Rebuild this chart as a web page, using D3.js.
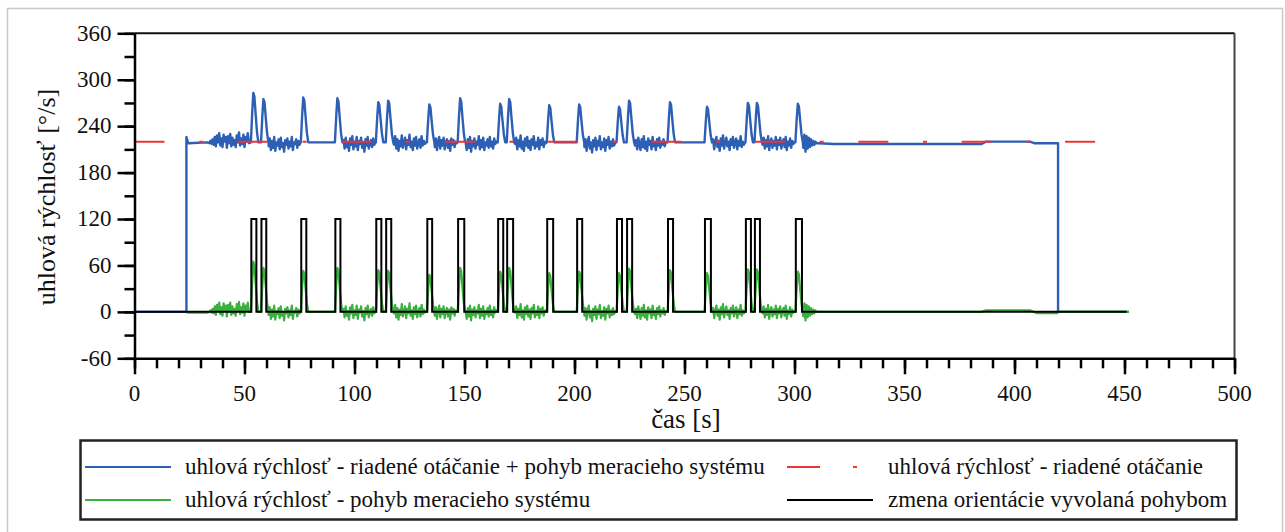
<!DOCTYPE html>
<html>
<head>
<meta charset="utf-8">
<script src="https://cdn.jsdelivr.net/npm/d3@7"></script>
<style>
  body { margin: 0; background: #fff; }
  #wrap { position: relative; width: 1285px; height: 532px; }
  #wrap svg { position: absolute; left: 0; top: 0; display: block; }
  .lbl {
    position: absolute; white-space: nowrap; line-height: 1; color: #111;
    font-family: "Liberation Serif", "Times New Roman", Times, serif;
  }
</style>
</head>
<body>
<div id="wrap"><svg id="chart" width="1285" height="532"></svg></div>
<script>
// --- data ---
const xTicks = [0, 50, 100, 150, 200, 250, 300, 350, 400, 450, 500];
const yTicks = [-60, 0, 60, 120, 180, 240, 300, 360];

// pulses of "zmena orientácie" (s)
const pulseOn  = [53.1, 57.7, 75.8, 91.3, 109.9, 114.4, 133.1, 147.1, 165.3, 169.4, 187.6, 201.2, 219.3, 223.9, 242.5, 259.3, 277.9, 282.0, 300.6];
const pulseOff = [55.4, 59.9, 78.1, 93.6, 112.2, 116.7, 135.3, 149.9, 167.6, 172.1, 190.3, 203.5, 221.6, 226.2, 244.8, 262.0, 280.2, 284.3, 303.4];
const pulseLevel = 120;

// peak values at each pulse
const bluePeak  = [283, 275, 277, 276, 271, 273, 268, 276, 269, 275, 267, 268, 265, 273, 271, 265, 270, 270, 269];
const greenPeak = [65, 57, 53, 57, 54, 53, 48, 57, 52, 57, 50, 52, 50, 56, 54, 50, 55, 55, 52];
// shape of one peak: [s after pulse start, share of peak height]
const peakShape = [[-0.2, 0], [0.4, 0.6], [0.9, 1], [1.4, 0.93], [2.0, 0.55], [2.6, 0.2], [3.2, 0]];

// noisy stretches, sampled every 0.5 s from noiseStart
const noiseStep = 0.5;
const noiseStart = [34, 61, 95, 118, 136.5, 150.5, 173, 204.5, 227.5, 263, 285.5, 304];
const blueNoise = [
  [218, 221, 217, 223, 216, 226, 214, 228, 219, 231, 215, 224, 213, 229, 220, 226, 212, 227, 218, 230, 214, 225, 216, 222, 213, 228, 219, 232, 215, 224, 217, 229, 213, 226, 220, 231, 218],
  [214, 224, 209, 221, 212, 226, 208, 219, 215, 223, 210, 225, 213, 218, 207, 222, 216, 224, 211, 220, 214, 226, 209, 219, 217, 223, 212, 221, 216, 219],
  [222, 211, 225, 213, 219, 208, 224, 216, 227, 210, 220, 214, 226, 209, 221, 217, 225, 212, 219, 207, 223, 215, 226, 211, 218, 222, 213, 224, 216, 220],
  [216, 227, 211, 223, 208, 221, 214, 228, 212, 219, 225, 210, 222, 216, 229, 213, 220, 209, 224, 215, 226, 211, 218, 223, 212, 227, 215, 221, 217, 219],
  [213, 224, 209, 220, 226, 211, 222, 215, 225, 210, 219, 223, 212, 221, 208, 224, 216, 222, 213, 220, 218],
  [219, 209, 223, 212, 226, 207, 221, 214, 224, 211, 220, 216, 227, 210, 222, 213, 225, 209, 219, 215, 223, 212, 226, 214, 220, 211, 224, 217, 220],
  [217, 225, 210, 222, 214, 228, 211, 220, 208, 224, 215, 226, 212, 221, 209, 223, 216, 227, 211, 219, 214, 225, 210, 222, 216, 224, 213, 220, 218],
  [213, 223, 208, 220, 226, 211, 219, 206, 222, 214, 225, 209, 221, 215, 227, 210, 219, 213, 224, 208, 222, 216, 226, 211, 220, 214, 223, 215, 219],
  [215, 222, 210, 225, 217, 209, 223, 213, 227, 211, 220, 208, 224, 216, 221, 210, 226, 214, 219, 209, 223, 215, 225, 212, 220, 216, 223, 214, 219],
  [223, 210, 220, 226, 213, 221, 208, 224, 215, 228, 211, 219, 225, 214, 220, 209, 223, 216, 226, 212, 219, 224, 210, 221, 215, 227, 213, 220, 216, 219],
  [216, 225, 211, 222, 214, 227, 209, 220, 224, 212, 221, 215, 226, 210, 222, 216, 225, 211, 219, 223, 213, 226, 209, 220, 215, 224, 212, 221, 217, 219],
  [212, 229, 207, 227, 211, 225, 213, 223, 215, 221, 216, 220, 218]
];
const greenNoise = [
  [0, 2, -1, 4, -2, 7, -4, 9, 1, 12, -3, 6, -5, 11, 2, 8, -6, 9, 0, 12, -4, 7, -2, 4, -5, 10, 1, 13, -3, 6, -1, 11, -5, 8, 2, 12, 0],
  [-4, 6, -9, 3, -6, 8, -10, 1, -3, 5, -8, 7, -5, 0, -11, 4, -2, 6, -7, 2, -4, 8, -9, 1, -1, 5, -6, 3, -2, 1],
  [4, -7, 7, -5, 1, -10, 6, -2, 9, -8, 2, -4, 8, -9, 3, -1, 7, -6, 1, -11, 5, -3, 8, -7, 0, 4, -5, 6, -2, 2],
  [-2, 9, -7, 5, -10, 3, -4, 10, -6, 1, 7, -8, 4, -2, 11, -5, 2, -9, 6, -3, 8, -7, 0, 5, -6, 9, -3, 3, -1, 1],
  [-5, 6, -9, 2, 8, -7, 4, -3, 7, -8, 1, 5, -6, 3, -10, 6, -2, 4, -5, 2, 0],
  [1, -9, 5, -6, 8, -11, 3, -4, 6, -7, 2, -2, 9, -8, 4, -5, 7, -9, 1, -3, 5, -6, 8, -4, 2, -7, 6, -1, 2],
  [-1, 7, -8, 4, -4, 10, -7, 2, -10, 6, -3, 8, -6, 3, -9, 5, -2, 9, -7, 1, -4, 7, -8, 4, -2, 6, -5, 2, 0],
  [-5, 5, -10, 2, 8, -7, 1, -12, 4, -4, 7, -9, 3, -3, 9, -8, 1, -5, 6, -10, 4, -2, 8, -7, 2, -4, 5, -3, 1],
  [-3, 4, -8, 7, -1, -9, 5, -5, 9, -7, 2, -10, 6, -2, 3, -8, 8, -4, 1, -9, 5, -3, 7, -6, 2, -2, 5, -4, 1],
  [5, -8, 2, 8, -5, 3, -10, 6, -3, 10, -7, 1, 7, -4, 2, -9, 5, -2, 8, -6, 1, 6, -8, 3, -3, 9, -5, 2, -2, 1],
  [-2, 7, -7, 4, -4, 9, -9, 2, 6, -6, 3, -3, 8, -8, 4, -2, 7, -7, 1, 5, -5, 8, -9, 2, -3, 6, -6, 3, -1, 1],
  [-6, 11, -11, 9, -7, 7, -5, 5, -3, 3, -2, 2, 0]
];

// quiet parts (start / end of record)
const blueQuiet = [[0, 0], [23.6, 0], [23.6, 226], [24.4, 218], [33, 219],
  [311, 218], [318, 217], [385, 217], [387, 220], [407, 220], [409, 218], [419.8, 218], [419.8, 0], [452, 0]];
const greenQuiet = [[23.6, 0], [24.4, -1], [33, -1],
  [311, 0], [385, 0], [387, 2], [407, 2], [410, -1.5], [419.5, -1.5], [420, 0], [452, 0]];
const blackQuiet = [[0, 0], [451, 0]];
const redLevel = [[0, 220], [438, 220]];
const baseBlue = 219;

const legendItems = [
  { label: "uhlová rýchlosť - riadené otáčanie + pohyb meracieho systému", color: "#2d5fb4", col: 0, row: 0 },
  { label: "uhlová rýchlosť - riadené otáčanie", color: "#e8353a", col: 1, row: 0, dashed: true },
  { label: "uhlová rýchlosť - pohyb meracieho systému", color: "#3ab03e", col: 0, row: 1 },
  { label: "zmena orientácie vyvolaná pohybom", color: "#000", col: 1, row: 1 }
];

// --- build series ---
function buildSeries(quiet, noise, peaks, base) {
  const pts = quiet.slice();
  noise.forEach((vals, i) => vals.forEach((v, k) => pts.push([noiseStart[i] + k * noiseStep, v])));
  pulseOn.forEach((on, i) => {
    peakShape.forEach(([dt, f]) => pts.push([on + dt, base + f * (peaks[i] - base)]));
  });
  return pts.sort((a, b) => a[0] - b[0]);
}
const blueSeries = buildSeries(blueQuiet, blueNoise, bluePeak, baseBlue);
const greenSeries = buildSeries(greenQuiet, greenNoise, greenPeak, 0);
const blackSeries = blackQuiet.slice();
pulseOn.forEach((on, i) => {
  blackSeries.push([on, 0], [on, pulseLevel], [pulseOff[i], pulseLevel], [pulseOff[i], 0]);
});
blackSeries.sort((a, b) => a[0] - b[0]);

// --- chart ---
const svg = d3.select("#chart");
const wrap = d3.select("#wrap");

// text goes in as html so the serif face is used
function label(text, left, baseline, size, anchor, rotate) {
  const shift = anchor === "middle" ? "-50%" : anchor === "end" ? "-100%" : "0";
  const el = wrap.append("div").attr("class", "lbl")
    .style("left", left + "px")
    .style("font-size", size + "px")
    .text(text);
  if (rotate) {
    el.style("top", baseline + "px")
      .style("transform-origin", "0 0")
      .style("transform", `rotate(-90deg) translate(${shift}, -0.8375em)`);
  } else {
    el.style("top", (baseline - 0.8375 * size) + "px")
      .style("transform", `translateX(${shift})`);
  }
  return el;
}

// outer frame of the figure
svg.append("rect")
  .attr("x", 7.5).attr("y", 8.5)
  .attr("width", 1275).attr("height", 530)
  .attr("fill", "none").attr("stroke", "#c8c8c8").attr("stroke-width", 1.5);

const x = d3.scaleLinear().domain([0, 500]).range([134.5, 1234.5]);
const y = d3.scaleLinear().domain([-60, 360]).range([358.3, 33.3]);

const line = d3.line().x(d => x(d[0])).y(d => y(d[1]));

// top and right frame
svg.append("line")
  .attr("x1", x(0)).attr("x2", x(500)).attr("y1", y(360)).attr("y2", y(360))
  .attr("stroke", "#111").attr("stroke-width", 2);
svg.append("line")
  .attr("x1", x(500)).attr("x2", x(500)).attr("y1", y(360)).attr("y2", y(-60))
  .attr("stroke", "#444").attr("stroke-width", 2);

// series
svg.append("path").datum(blueSeries)
  .attr("d", line).attr("fill", "none")
  .attr("stroke", "#2d5fb4").attr("stroke-width", 2.4).attr("stroke-linejoin", "round");
svg.append("path").datum(greenSeries)
  .attr("d", line).attr("fill", "none")
  .attr("stroke", "#3ab03e").attr("stroke-width", 2.2).attr("stroke-linejoin", "round");
svg.append("path").datum(redLevel)
  .attr("d", line).attr("fill", "none")
  .attr("stroke", "#e8353a").attr("stroke-width", 2)
  .attr("stroke-dasharray", "30 34.7 4 34.7");
svg.append("path").datum(blackSeries)
  .attr("d", line).attr("fill", "none")
  .attr("stroke", "#000").attr("stroke-width", 2);

// axes: major + minor ticks (labels added as html below)
function styleAxis(g) {
  g.selectAll("path, line").attr("stroke", "#000").attr("stroke-width", 2.5);
  g.selectAll("text").remove();
}

svg.append("g")
  .attr("transform", `translate(0,${y(-60)})`)
  .call(d3.axisBottom(x).tickValues(d3.range(0, 501, 10)).tickSize(10).tickSizeOuter(0).tickFormat(""))
  .call(styleAxis);
svg.append("g")
  .attr("transform", `translate(0,${y(-60)})`)
  .call(d3.axisBottom(x).tickValues(xTicks).tickSize(16).tickSizeOuter(0).tickFormat(""))
  .call(styleAxis)
  .call(g => g.select(".domain").remove());

svg.append("g")
  .attr("transform", `translate(${x(0)},0)`)
  .call(d3.axisLeft(y).tickValues(d3.range(-60, 361, 30)).tickSize(10).tickSizeOuter(0).tickFormat(""))
  .call(styleAxis);
svg.append("g")
  .attr("transform", `translate(${x(0)},0)`)
  .call(d3.axisLeft(y).tickValues(yTicks).tickSize(17).tickSizeOuter(0).tickFormat(""))
  .call(styleAxis)
  .call(g => g.select(".domain").remove());

xTicks.forEach(t => label(String(t), x(t), 401.5, 23, "middle"));
yTicks.forEach(t => label(String(t), x(0) - 23, y(t) + 7.5, 23, "end"));

// axis titles
label("uhlová rýchlosť [°/s]", 56, 197, 26, "middle", true);
label("čas [s]", 686, 429, 27, "middle");

// legend
const legend = svg.append("g");
legend.append("rect")
  .attr("x", 80.5).attr("y", 440.5).attr("width", 1156).attr("height", 79)
  .attr("fill", "none").attr("stroke", "#222").attr("stroke-width", 2.5);

const colX = [85, 787];
const textX = [185, 888];
const rowY = [467, 500];
legendItems.forEach(d => {
  const lx = colX[d.col], ly = rowY[d.row];
  if (d.dashed) {
    legend.append("line").attr("x1", lx).attr("x2", lx + 70).attr("y1", ly).attr("y2", ly)
      .attr("stroke", d.color).attr("stroke-width", 2).attr("stroke-dasharray", "33 33 4 100");
  } else {
    legend.append("line").attr("x1", lx).attr("x2", lx + 86)
      .attr("y1", ly).attr("y2", ly)
      .attr("stroke", d.color).attr("stroke-width", 2);
  }
  label(d.label, textX[d.col], ly + 7.5, 23, "start");
});
</script>
</body>
</html>
